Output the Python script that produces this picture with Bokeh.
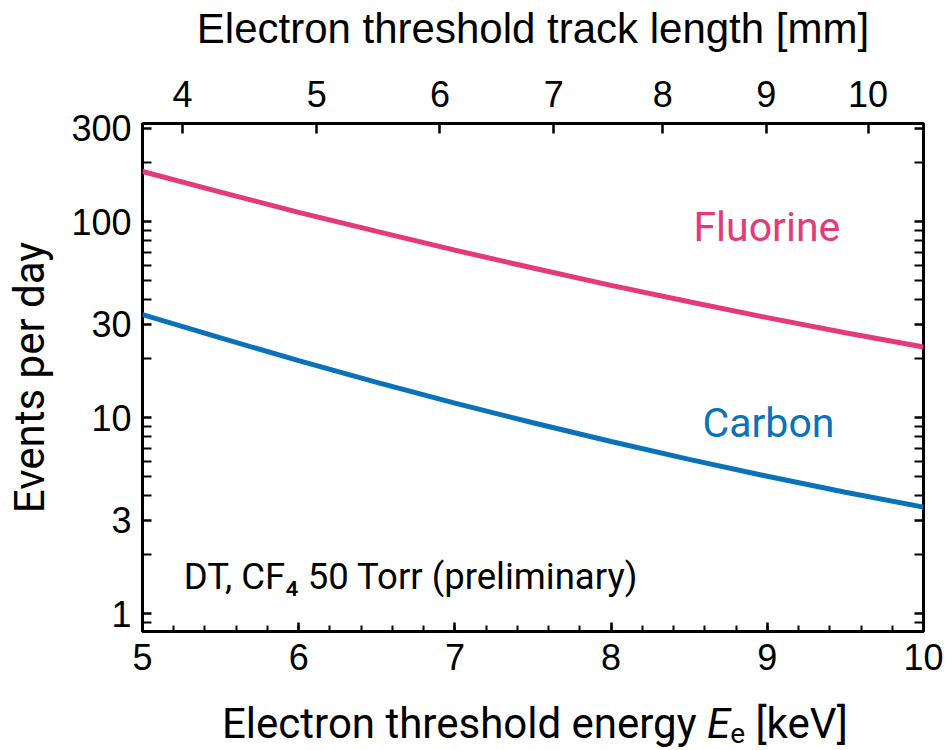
from bokeh.plotting import figure
from bokeh.layouts import column
from bokeh.models import (Range1d, LinearAxis, LogAxis, FixedTicker, SingleIntervalTicker,
                          CustomJSTickFormatter, Label, Div)
from bokeh.embed import file_html
from bokeh.resources import INLINE

# Electron threshold energy grid [keV]
energy_kev = [5.0, 5.5, 6.0, 6.5, 7.0, 7.5, 8.0, 8.5, 9.0, 9.5, 10.0]
# Expected event rates [events/day]
fluorine_rate = [181, 142, 112, 89.5, 71.8, 58.2, 47.5, 39.2, 32.5, 27.2, 23.0]
carbon_rate = [33.7, 25.6, 19.6, 15.2, 11.9, 9.46, 7.59, 6.15, 5.04, 4.18, 3.51]

# Secondary axis: track length [mm] and the threshold energy [keV] it corresponds to
track_mm = [4, 5, 6, 7, 8, 9, 10]
track_energy_kev = [5.256, 6.115, 6.904, 7.633, 8.331, 8.994, 9.645]

# Log-axis ticks
y_major = [1, 3, 10, 30, 100, 300]
y_minor = [0.9, 2, 4, 5, 6, 7, 8, 9, 20, 40, 50, 60, 70, 80, 90, 200]

PINK = "#e6397a"
BLUE = "#0a72ba"
TICK_FONT = "Liberation Sans"
LABEL_FONT = "Roboto"

W = 946
TOP_H = 123 + 508 + 60
CAPTION_H = 750 - TOP_H

p = figure(frame_width=781, frame_height=508,
           x_range=Range1d(5, 10), y_range=Range1d(0.814, 318),
           y_axis_type="log", output_backend="svg", toolbar_location=None,
           min_border_left=142, min_border_right=23, min_border_top=123,
           min_border_bottom=60, background_fill_color="white",
           border_fill_color="white")
p.xgrid.visible = False
p.ygrid.visible = False
p.outline_line_color = "black"
p.outline_line_width = 3
p.outline_line_alpha = 1.0

p.line(energy_kev, fluorine_rate, line_color=PINK, line_width=5)
p.line(energy_kev, carbon_rate, line_color=BLUE, line_width=5)


def style_axis(ax, major_in=9, minor_in=6):
    ax.axis_line_color = None
    ax.major_tick_in = major_in
    ax.major_tick_out = 0
    ax.minor_tick_in = minor_in
    ax.minor_tick_out = 0
    ax.major_tick_line_width = 2.5
    ax.minor_tick_line_width = 2
    ax.major_tick_line_color = "black"
    ax.minor_tick_line_color = "black"
    ax.major_label_text_font = TICK_FONT
    ax.major_label_text_font_size = "36px"
    ax.major_label_text_color = "black"
    ax.axis_label_text_font_style = "normal"
    ax.axis_label_text_color = "black"


# bottom energy axis
xa = p.xaxis[0]
xa.ticker = SingleIntervalTicker(interval=1, num_minor_ticks=5)
style_axis(xa)
xa.major_label_standoff = 12

# left rate axis
ya = p.yaxis[0]
ya.ticker = FixedTicker(ticks=y_major, minor_ticks=y_minor)
ya.formatter = CustomJSTickFormatter(code="return String(Math.round(tick));")
style_axis(ya, 9, 9)
ya.major_label_standoff = 11
ya.axis_label = "Events per day"
ya.axis_label_text_font = LABEL_FONT
ya.axis_label_text_font_size = "42px"
ya.axis_label_standoff = 14

# right axis: ticks only
ra = LogAxis(ticker=FixedTicker(ticks=y_major, minor_ticks=y_minor),
             formatter=CustomJSTickFormatter(code="return '';"))
style_axis(ra, 9, 9)
ra.major_label_standoff = 0
p.add_layout(ra, "right")

# top axis: track length
ta = LinearAxis(ticker=FixedTicker(ticks=track_energy_kev, minor_ticks=[]),
                formatter=CustomJSTickFormatter(
                    args=dict(pos=track_energy_kev, lab=[str(v) for v in track_mm]),
                    code="""
let best = 0;
for (let i = 0; i < pos.length; i++) {
  if (Math.abs(pos[i] - tick) < Math.abs(pos[best] - tick)) best = i;
}
return lab[best];
"""))
style_axis(ta, 10, 0)
ta.major_label_standoff = 17
ta.axis_label = "Electron threshold track length [mm]"
ta.axis_label_text_font = TICK_FONT
ta.axis_label_text_font_size = "42px"
ta.axis_label_standoff = 26
p.add_layout(ta, "above")

# series names and annotation inside the frame
p.add_layout(Label(x=8.527, y=94.8, text="Fluorine", text_color=PINK,
                   text_font=LABEL_FONT, text_font_size="41px",
                   text_baseline="alphabetic", text_align="left"))
p.add_layout(Label(x=8.585, y=9.46, text="Carbon", text_color=BLUE,
                   text_font=LABEL_FONT, text_font_size="41px",
                   text_baseline="alphabetic", text_align="left"))
p.add_layout(Label(x=5.264, y=1.55, text="DT, CF\u2084 50 Torr (preliminary)",
                   text_color="black", text_font=LABEL_FONT, text_font_size="36.5px",
                   text_baseline="alphabetic", text_align="left"))

# bottom axis title (italic E with subscript e), as a caption strip under the plot
caption = Div(
    text=('<div style="font-family: Roboto; font-size: 42px; line-height: 48px; '
          'padding-top: 9px; padding-left: 222px; text-align: left; color: black; '
          'white-space: nowrap;">'
          'Electron threshold energy <i>E</i><span style="font-size: 28px; '
          'position: relative; top: 5px;">e</span> [keV]</div>'),
    width=W, height=CAPTION_H, margin=0)

layout = column(p, caption, spacing=0)
open("out.html", "w").write(file_html(layout, INLINE))
